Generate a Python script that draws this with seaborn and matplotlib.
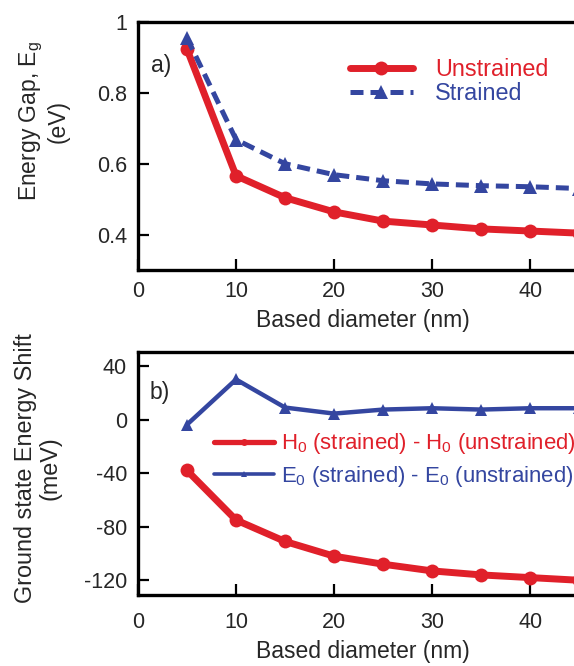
import matplotlib
matplotlib.use("Agg")
import matplotlib.pyplot as plt
import seaborn as sns
import pandas as pd

diameter = [5, 10, 15, 20, 25, 30, 35, 40, 45]
gap_unstrained = [0.923, 0.566, 0.504, 0.464, 0.438, 0.427, 0.416, 0.410, 0.404]
gap_strained = [0.955, 0.668, 0.600, 0.569, 0.552, 0.543, 0.538, 0.535, 0.530]
shift_H0 = [-38, -75, -91, -102, -108, -113, -116, -118, -120]
shift_E0 = [-3.7, 30, 9, 4.5, 7.5, 8.5, 7.5, 8.5, 8.5]

x_ticks = [0, 10, 20, 30, 40]
y_ticks_a = [0.4, 0.6, 0.8, 1.0]
y_ticklabels_a = ["0.4", "0.6", "0.8", "1"]
y_ticks_b = [-120, -80, -40, 0, 40]
y_ticklabels_b = ["-120", "-80", "-40", "0", "40"]

RED = "#E0202A"
BLUE = "#3446A0"

sns.set_style("ticks")
plt.rcParams["font.family"] = ["Liberation Sans", "DejaVu Sans"]
plt.rcParams["mathtext.fontset"] = "custom"
plt.rcParams["mathtext.rm"] = "Liberation Sans"
plt.rcParams["mathtext.it"] = "Liberation Sans"

fig = plt.figure(figsize=(5.74, 6.66), dpi=100)
W, H = 574, 666
def ax_rect(l, t, r, b):
    return [l / W, 1 - b / H, (r - l) / W, (b - t) / H]

ax1 = fig.add_axes(ax_rect(138, 22, 588, 270))
ax2 = fig.add_axes(ax_rect(138, 352, 588, 595))

df_a = pd.DataFrame({"d": diameter, "u": gap_unstrained, "s": gap_strained})
sns.lineplot(data=df_a, x="d", y="u", ax=ax1, color=RED, lw=5, marker="o",
             markersize=10, markeredgewidth=0, label="Unstrained")
sns.lineplot(data=df_a, x="d", y="s", ax=ax1, color=BLUE, lw=3.6, marker="^",
             markersize=10, markeredgewidth=0, label="Strained",
             linestyle=(0, (2.6, 1.4)))

df_b = pd.DataFrame({"d": diameter, "h": shift_H0, "e": shift_E0})
sns.lineplot(data=df_b, x="d", y="h", ax=ax2, color=RED, lw=5, marker="o",
             markersize=10, markeredgewidth=0,
             label=r"H$_0$ (strained) - H$_0$ (unstrained)")
sns.lineplot(data=df_b, x="d", y="e", ax=ax2, color=BLUE, lw=3.2, marker="^",
             markersize=8, markeredgewidth=0,
             label=r"E$_0$ (strained) - E$_0$ (unstrained)")

for ax, xpad, lpad in ((ax1, 8, 5), (ax2, 12, 5)):
    ax.set_xlim(0, 45.9)
    ax.set_xticks(x_ticks)
    ax.tick_params(direction="in", length=8, width=1.6, labelsize=15.5, pad=8,
                   color="black")
    ax.tick_params(axis="x", pad=xpad)
    for sp in ax.spines.values():
        sp.set_linewidth(2.4)
        sp.set_color("black")
    ax.set_xlabel("Based diameter (nm)", fontsize=16.5, labelpad=lpad)

ax1.set_ylim(0.30, 1.0)
ax1.set_yticks(y_ticks_a)
ax1.set_yticklabels(y_ticklabels_a)
ax1.set_ylabel("Energy Gap, E$_\\mathrm{g}$\n(eV)", fontsize=16.5, linespacing=1.1)
ax1.yaxis.set_label_coords(-0.151, 0.60)
ax1.text(0.03, 0.823, "a)", transform=ax1.transAxes, fontsize=16.5, va="center")

ax2.set_ylim(-131, 50.5)
ax2.set_yticks(y_ticks_b)
ax2.set_yticklabels(y_ticklabels_b)
ax2.set_ylabel("Ground state Energy Shift\n(meV)", fontsize=16.8, linespacing=1.1)
ax2.yaxis.set_label_coords(-0.169, 0.523)
ax2.text(0.025, 0.835, "b)", transform=ax2.transAxes, fontsize=16.5, va="center")

leg1 = ax1.legend(loc="upper left", bbox_to_anchor=(0.45, 0.892), frameon=False,
                  fontsize=16.8, handlelength=2.7, handletextpad=0.95,
                  labelspacing=0.05, labelcolor="linecolor", borderaxespad=0)
leg2 = ax2.legend(loc="upper left", bbox_to_anchor=(0.15, 0.71), frameon=False,
                  fontsize=15.9, handlelength=2.7, handletextpad=0.3,
                  labelspacing=0.35, labelcolor="linecolor", borderaxespad=0,
                  markerscale=0.5)
leg2_lines = leg2.get_lines()
leg2_lines[0].set_linewidth(3.8)
leg2_lines[1].set_linewidth(2.6)

fig.savefig("out.png", dpi=100)
